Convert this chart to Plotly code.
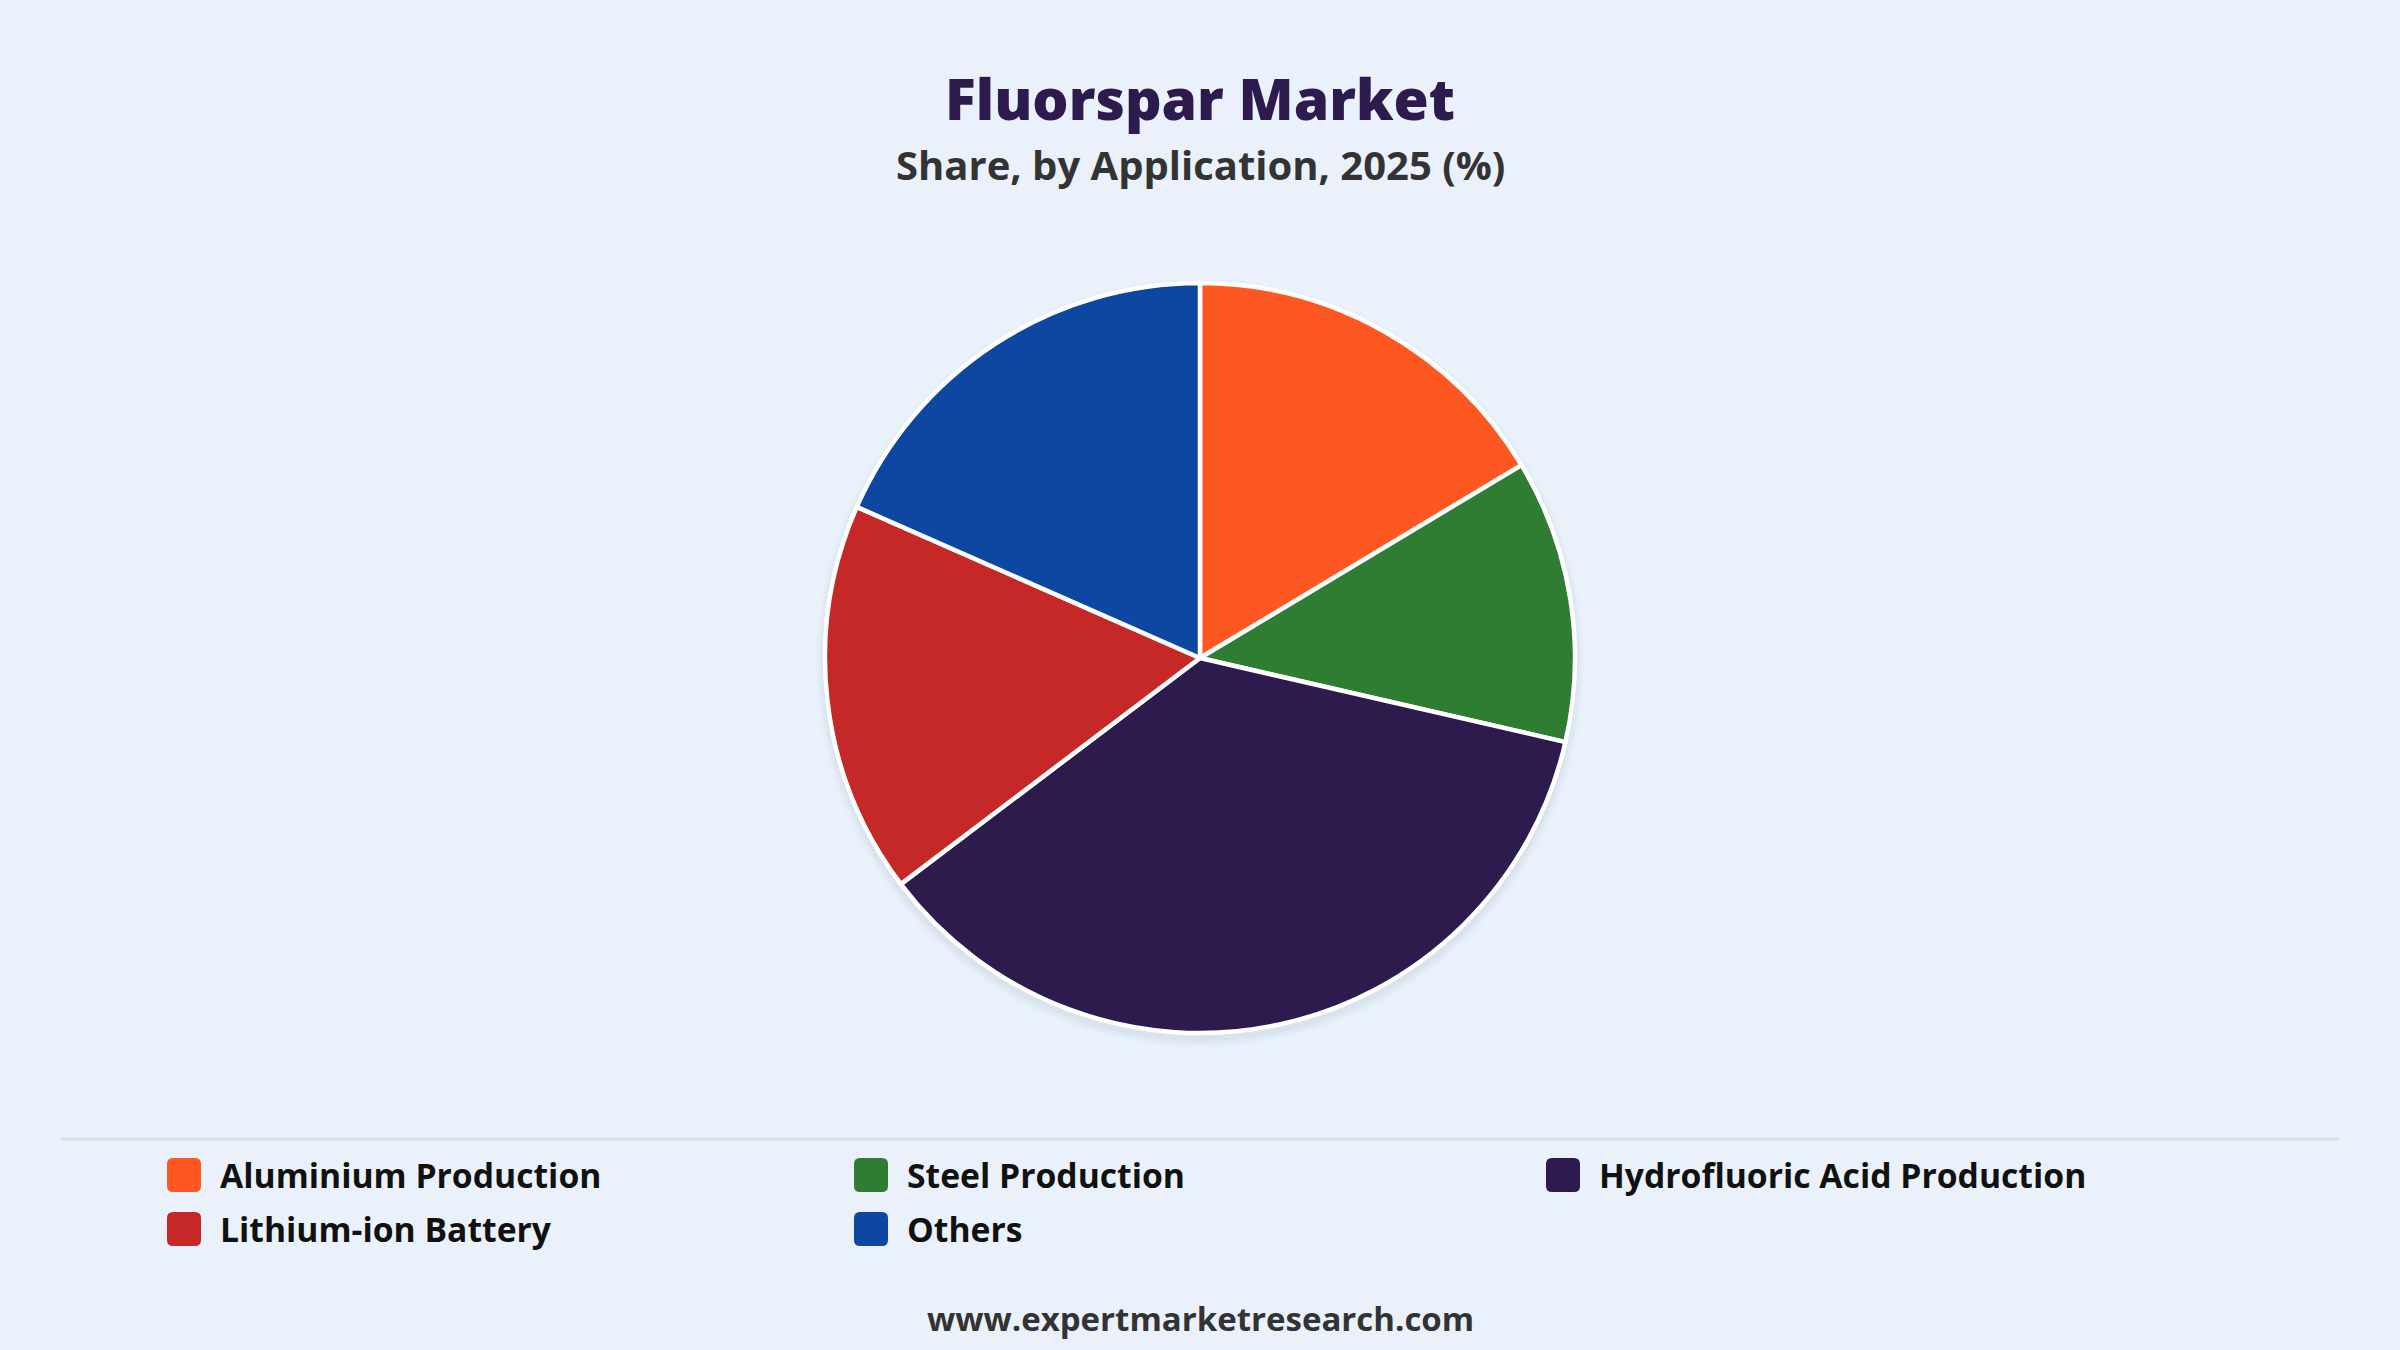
import plotly.graph_objects as go

categories = ["Aluminium Production", "Steel Production", "Hydrofluoric Acid Production",
              "Lithium-ion Battery", "Others"]
shares = [16.4, 12.2, 36.1, 16.9, 18.4]
colors = ["#FF5722", "#2E7D32", "#2D1B4E", "#C62828", "#0D47A1"]

title = "Fluorspar Market"
subtitle = "Share, by Application, 2025 (%)"
footer = "www.expertmarketresearch.com"

W, H = 2400, 1350
BG = "#EAF1FB"
FONT = "Open Sans"

cx, cy, r = 1200, 658, 375

fig = go.Figure()
fig.add_trace(go.Pie(
    labels=categories, values=shares, sort=False, direction="clockwise", rotation=0,
    marker=dict(colors=colors, line=dict(color="white", width=4.5)),
    textinfo="none", hoverinfo="label+percent", showlegend=False,
    domain=dict(x=[(cx - r) / W, (cx + r) / W], y=[(H - cy - r) / H, (H - cy + r) / H]),
))

shapes = []
# soft shadow behind the pie
for i, a in enumerate([0.04, 0.03, 0.02]):
    g = 3 + i * 3
    shapes.append(dict(type="circle", xref="paper", yref="paper", layer="below",
                       x0=(cx - r - g) / W, x1=(cx + r + g) / W,
                       y0=(H - cy - 5 - r - g) / H, y1=(H - cy - 5 + r + g) / H,
                       fillcolor=f"rgba(70,80,95,{a})", line=dict(width=0)))
# separator line
shapes.append(dict(type="line", xref="paper", yref="paper", x0=61 / W, x1=2339 / W,
                   y0=1 - 1139 / H, y1=1 - 1139 / H, line=dict(color="#D9DEE4", width=3)))

annotations = [
    dict(text=title, x=0.5, y=1 - 98 / H, xref="paper", yref="paper",
         showarrow=False, font=dict(family=FONT, size=57, color="#2D1B4E", weight=800),
         xanchor="center", yanchor="middle"),
    dict(text=subtitle, x=0.5, y=1 - 164 / H, xref="paper", yref="paper",
         showarrow=False, font=dict(family=FONT, size=40, color="#333333", weight=700),
         xanchor="center", yanchor="middle"),
    dict(text=footer, x=0.5, y=1 - 1318 / H, xref="paper", yref="paper",
         showarrow=False, font=dict(family=FONT, size=33, color="#333333", weight=700),
         xanchor="center", yanchor="middle"),
]

# custom legend (3 columns)
col_x = [167, 854, 1546]
row_y = [1175, 1229]
sw = 34
for i, (lab, col) in enumerate(zip(categories, colors)):
    c, rw = i % 3, i // 3
    x0, yc = col_x[c], row_y[rw]
    x1, y0, y1 = x0 + sw, yc - sw / 2, yc + sw / 2
    rr = 6
    path = (f"M{x0 + rr},{y0} L{x1 - rr},{y0} Q{x1},{y0} {x1},{y0 + rr} L{x1},{y1 - rr} "
            f"Q{x1},{y1} {x1 - rr},{y1} L{x0 + rr},{y1} Q{x0},{y1} {x0},{y1 - rr} "
            f"L{x0},{y0 + rr} Q{x0},{y0} {x0 + rr},{y0} Z")
    shapes.append(dict(type="path", xref="x", yref="y", path=path, fillcolor=col,
                       line=dict(width=0)))
    annotations.append(dict(text=lab, x=x1 + 17, y=yc, xref="x", yref="y",
                            showarrow=False, xanchor="left", yanchor="middle",
                            font=dict(family=FONT, size=33.7, color="#111111", weight=700)))

fig.update_layout(
    width=W, height=H, paper_bgcolor=BG, plot_bgcolor=BG,
    margin=dict(l=0, r=0, t=0, b=0),
    xaxis=dict(range=[0, W], visible=False, fixedrange=True),
    yaxis=dict(range=[H, 0], visible=False, fixedrange=True),
    shapes=shapes, annotations=annotations, showlegend=False,
)
fig.write_html("out.html", config={"displayModeBar": False},
               post_script="document.body.style.margin='0';document.body.style.overflow='hidden';document.body.style.background='" + BG + "';")
